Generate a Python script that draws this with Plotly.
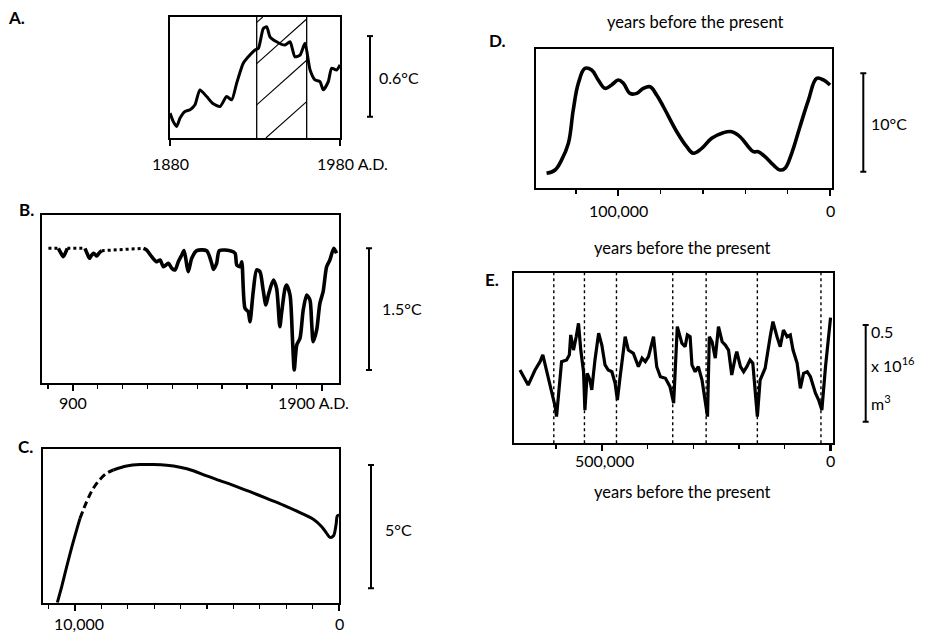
import plotly.graph_objects as go

W, H = 926, 633

# ---------------- data ----------------
# A. global mean temperature, 1880-1980 A.D.  (deg C, arbitrary baseline)
a_year = [1880, 1882, 1883.9, 1886, 1888.8, 1891.8, 1894.7, 1897.6, 1901.6, 1905,
          1909.4, 1913.3, 1916.3, 1919.2, 1923.1, 1927, 1930, 1932, 1934.9, 1936.9,
          1938.8, 1942.7, 1947.6, 1950.6, 1953.5, 1956.5, 1959.4, 1962.4, 1965.3,
          1968.2, 1970.2, 1973.1, 1975.1, 1978, 1980]
a_temp = [0.185, 0.12, 0.086, 0.15, 0.197, 0.210, 0.247, 0.358, 0.308, 0.259,
          0.234, 0.308, 0.284, 0.407, 0.556, 0.617, 0.654, 0.667, 0.815, 0.827,
          0.753, 0.716, 0.691, 0.716, 0.604, 0.617, 0.704, 0.506, 0.432,
          0.419, 0.358, 0.419, 0.519, 0.506, 0.544]
a_warm_span = [1931, 1960.4]

# B. last millennium, A.D. years
b_year = [802, 842, 852, 862, 870, 878, 949, 958, 967, 975, 983, 990, 996, 1006, 1016,
          1184, 1197, 1217, 1237, 1251, 1264, 1284, 1298, 1311, 1324, 1338, 1347, 1358,
          1364, 1378, 1398, 1438, 1458, 1465, 1478, 1489, 1532, 1552, 1559, 1572, 1579,
          1592, 1605, 1612, 1625, 1639, 1652, 1665, 1676, 1686, 1706, 1719, 1732, 1739,
          1753, 1759, 1773, 1783, 1790, 1800, 1813, 1826, 1840, 1853, 1860, 1866, 1880,
          1893, 1906, 1920, 1933, 1949, 1960]
b_temp = [1.657, 1.657, 1.60, 1.554, 1.60, 1.657, 1.657, 1.59, 1.534, 1.57, 1.596, 1.58,
          1.562, 1.60, 1.628,
          1.657, 1.636, 1.554, 1.492, 1.513, 1.430, 1.472, 1.411, 1.390, 1.492, 1.575,
          1.630, 1.451, 1.369, 1.534, 1.628, 1.628, 1.472, 1.398, 1.472, 1.628, 1.628,
          1.596, 1.451, 1.430, 1.492, 0.917, 0.875, 0.752, 1.122, 1.390, 1.369, 1.143,
          0.958, 1.081, 1.266, 1.164, 0.690, 0.856, 1.164, 1.205, 1.081, 0.527, 0.157,
          0.465, 0.547, 0.896, 1.081, 1.020, 0.732, 0.506, 0.650, 0.979, 1.122, 1.430,
          1.513, 1.657, 1.596]
b_dotted_runs = [(802, 842), (878, 949), (1016, 1184)]

# C. last 11,000 years (years before present)
c_year = [10671, 10504, 10315, 10065, 9811, 9557, 9307, 9053, 8800, 8549, 8042, 7538,
          7034, 6527, 6023, 5519, 5011, 4508, 4004, 3371, 2739, 2110, 1477, 974, 655,
          466, 341, 216, 114, 64, 0]
c_temp = [0.0, 0.649, 1.460, 2.474, 3.42, 4.10, 4.64, 5.00, 5.25, 5.38, 5.54, 5.60,
          5.60, 5.57, 5.49, 5.35, 5.14, 4.95, 4.76, 4.50, 4.23, 3.96, 3.65, 3.38, 3.08,
          2.81, 2.65, 2.70, 3.15, 3.52, 3.56]
c_dashed_run = (9811, 8549)

# D. last glacial cycle (thousand years before present)
d_kyr = [133.9, 129.9, 126.8, 123.6, 121.3, 118.9, 115.8, 112.6, 109.5, 106.3, 103.2,
         100.0, 97.6, 94.5, 91.3, 88.2, 85.0, 81.9, 78.7, 72.4, 67.7, 64.6, 60.6, 55.9,
         50.4, 46.4, 42.5, 38.6, 36.2, 33.9, 30.7, 26.8, 23.6, 21.3, 18.1, 14.2, 10.2,
         6.3, 3.1, 0.0]
d_temp = [1.46, 1.80, 2.82, 4.51, 7.90, 10.61, 12.13, 11.96, 10.95, 10.10, 10.44,
          10.95, 10.61, 9.59, 9.59, 10.10, 10.26, 9.42, 8.23, 5.69, 4.17, 3.50, 4.00,
          5.02, 5.59, 5.69, 5.18, 4.17, 3.66, 3.66, 3.15, 2.31, 1.80, 1.97, 3.50, 6.20,
          8.91, 11.12, 10.95, 10.44]

# E. ice volume index, last ~700,000 years (thousand years BP; 10^16 m^3 units)
e_kyr = [679, 661, 646, 635, 629, 624, 617, 609, 602, 599, 591, 588, 577, 571, 568, 562,
         556, 551, 546, 540, 537, 532, 526, 522, 515, 507, 500, 493, 486, 478, 471, 466,
         460, 449, 442, 431, 420, 412, 405, 398, 387, 380, 372, 361, 351, 343, 335, 325,
         318, 313, 307, 303, 296, 289, 281, 274, 269, 265, 259, 252, 245, 237, 230, 223,
         216, 208, 205, 197, 190, 183, 176, 170, 165, 160, 154, 143, 132, 126, 117, 110,
         103, 95, 88, 82, 73, 66, 59, 51, 44, 33, 26, 19, 11, 4, 0]
e_vol = [0.379, 0.301, 0.379, 0.422, 0.457, 0.405, 0.336, 0.267, 0.189, 0.138, 0.327,
         0.422, 0.431, 0.457, 0.560, 0.482, 0.551, 0.620, 0.482, 0.370, 0.172, 0.362,
         0.327, 0.276, 0.431, 0.569, 0.508, 0.405, 0.379, 0.370, 0.310, 0.224, 0.344,
         0.551, 0.482, 0.465, 0.396, 0.440, 0.422, 0.448, 0.551, 0.396, 0.344, 0.336,
         0.293, 0.207, 0.603, 0.517, 0.499, 0.560, 0.551, 0.405, 0.370, 0.396, 0.327,
         0.207, 0.138, 0.551, 0.525, 0.440, 0.603, 0.525, 0.508, 0.482, 0.353, 0.448,
         0.474, 0.396, 0.370, 0.396, 0.431, 0.414, 0.259, 0.138, 0.327, 0.388, 0.551,
         0.629, 0.551, 0.499, 0.586, 0.551, 0.560, 0.482, 0.414, 0.284, 0.362, 0.370,
         0.344, 0.259, 0.224, 0.172, 0.396, 0.569, 0.650]
e_terminations_kyr = [605, 538, 468, 345, 272, 160, 21]

scale_values = [0.6, 1.5, 5, 10, 0.5]
scale_texts = ["0.6°C", "1.5°C", "5°C", "10°C"]

# ---------------- layout geometry (pixels) ----------------
FONT = "Lato, 'Open Sans', sans-serif"
TXT = 16
panels = [
    dict(name="A", box=(170, 17, 340, 138), xr=[1880, 1980], yr=[0, 0.90],
         major=[1880, 1980], minor=None, bar_x=370, bar_y0=0.158, label=(16, 17)),
    dict(name="B", box=(41.7, 215, 339.3, 382.7), xr=[775, 1971], yr=[0, 2.068],
         major=[900, 1900], minor=100, bar_x=369, bar_y0=0.157, label=(26, 209)),
    dict(name="C", box=(42.7, 449.3, 339.3, 602.7), xr=[11224, -11], yr=[0, 6.22],
         major=[10000, 0], minor=1000, bar_x=371, bar_y0=0.584, label=(25, 446)),
    dict(name="D", box=(536, 49.3, 831.7, 187.7), xr=[138.9, -0.8], yr=[0, 14.07],
         major=[100, 0], minor=20, bar_x=863.3, bar_y0=1.63, label=(498, 41)),
    dict(name="E", box=(514, 272.7, 833.3, 443.3), xr=[692, -6], yr=[0, 0.882],
         major=[500, 0], minor=100, bar_x=865.7, bar_y0=0.112, label=(492, 279)),
]

fig = go.Figure()


def split_runs(xs, ys, spans):
    """Split a series into consecutive runs inside / outside the given spans."""
    def inside(x0, x1):
        return any(min(a, b) <= x0 <= max(a, b) and min(a, b) <= x1 <= max(a, b)
                   for a, b in spans)
    runs = []
    cur, cur_t = [], None
    for i in range(len(xs) - 1):
        t = inside(xs[i], xs[i + 1])
        if t != cur_t:
            if cur:
                runs.append((cur_t, cur))
            cur, cur_t = [(xs[i], ys[i])], t
        cur.append((xs[i + 1], ys[i + 1]))
    runs.append((cur_t, cur))
    return runs


def add_line(x, y, k, dash="solid", shape="spline", smoothing=0.8, width=3):
    line = dict(color="black", width=width, dash=dash, shape=shape)
    if shape == "spline":
        line["smoothing"] = smoothing
    fig.add_trace(go.Scatter(
        x=list(x), y=list(y), mode="lines", xaxis=f"x{k}", yaxis=f"y{k}",
        line=line, showlegend=False, hoverinfo="skip"))


shapes = []
annotations = []

# A: hatched interval (two boundary lines + diagonal hatching) and the curve
s0, s1 = a_warm_span
a_lo, a_hi = panels[0]["yr"]
for s in (s0, s1):
    shapes.append(dict(type="line", xref="x", yref="y", x0=s, x1=s, y0=a_lo, y1=a_hi,
                       line=dict(color="black", width=1.3), layer="below"))
hatch_slope = 0.0113          # deg C per year (≈ 42° on screen)
hatch_step = 0.307            # vertical spacing of hatch lines (deg C)
c = -0.061
while c < a_hi:
    # line: y = c + slope * (x - s0), clipped to the span rectangle
    xa, ya = s0, c
    if ya < a_lo:
        xa, ya = s0 + (a_lo - c) / hatch_slope, a_lo
    xb, yb = s1, c + hatch_slope * (s1 - s0)
    if yb > a_hi:
        xb, yb = s0 + (a_hi - c) / hatch_slope, a_hi
    if xa < xb:
        shapes.append(dict(type="line", xref="x", yref="y", x0=xa, y0=ya, x1=xb, y1=yb,
                           line=dict(color="black", width=1.1), layer="below"))
    c += hatch_step

add_line(a_year, a_temp, "", smoothing=0.6, width=3)

# B
for dotted, pts in split_runs(b_year, b_temp, b_dotted_runs):
    xs, ys = zip(*pts)
    if dotted:
        add_line(xs, ys, 2, dash="3px,3px", shape="linear", width=3)
    else:
        add_line(xs, ys, 2, smoothing=0.7, width=3.6)

# C
for dashed, pts in split_runs(c_year, c_temp, [c_dashed_run]):
    xs, ys = zip(*pts)
    add_line(xs, ys, 3, dash="7px,4px" if dashed else "solid", smoothing=1.0, width=3)

# D
add_line(d_kyr, d_temp, 4, smoothing=1.1, width=3.6)

# E
add_line(e_kyr, e_vol, 5, shape="linear", width=3.2)

# E termination lines
for t in e_terminations_kyr:
    shapes.append(dict(type="line", xref="x5", yref="y5 domain", x0=t, x1=t, y0=0, y1=1,
                       line=dict(color="black", width=1.4, dash="3px,3px"), layer="below"))

layout_axes = {}
for i, p in enumerate(panels):
    k = "" if i == 0 else str(i + 1)
    x0, y0, x1, y1 = p["box"]
    xa = dict(domain=[x0 / W, x1 / W], range=p["xr"], anchor=f"y{k}",
              showline=True, mirror=True, linecolor="black", linewidth=2,
              showgrid=False, zeroline=False, showticklabels=False,
              ticks="outside", tickmode="array", tickvals=p["major"],
              ticklen=6, tickwidth=2.2, tickcolor="black", fixedrange=True)
    if p["minor"]:
        xa["minor"] = dict(ticks="outside", dtick=p["minor"], tick0=0, ticklen=4,
                           tickwidth=1.3, tickcolor="black", showgrid=False)
    ya = dict(domain=[1 - y1 / H, 1 - y0 / H], range=p["yr"], anchor=f"x{k}",
              showline=True, mirror=True, linecolor="black", linewidth=2,
              showgrid=False, zeroline=False, showticklabels=False, ticks="",
              fixedrange=True)
    layout_axes[f"xaxis{k}"] = xa
    layout_axes[f"yaxis{k}"] = ya

    # scale bar
    bx = p["bar_x"]
    yb0 = p["bar_y0"]
    yb1 = yb0 + scale_values[i]
    shapes.append(dict(type="line", xref="paper", yref=f"y{k}", x0=bx / W, x1=bx / W,
                       y0=yb0, y1=yb1, line=dict(color="black", width=2)))
    for yy in (yb0, yb1):
        shapes.append(dict(type="line", xref="paper", yref=f"y{k}", x0=(bx - 3) / W,
                           x1=(bx + 3) / W, y0=yy, y1=yy, line=dict(color="black", width=2)))

    # panel letter
    lx, ly = p["label"]
    annotations.append(dict(text=f"<b>{p['name']}.</b>", xref="paper", yref="paper",
                            x=lx / W, y=1 - ly / H, xanchor="center", yanchor="middle",
                            showarrow=False,
                            font=dict(size=17, family=FONT, color="black")))


def paper_text(text, px, py, anchor="center", size=TXT):
    annotations.append(dict(text=text, xref="paper", yref="paper", x=px / W, y=1 - py / H,
                            xanchor=anchor, yanchor="middle", showarrow=False,
                            font=dict(size=size, family=FONT, color="black")))


def tick_text(text, xref, xval, py, anchor="center", shift=0, size=TXT):
    annotations.append(dict(text=text, xref=xref, yref="paper", x=xval, y=1 - py / H,
                            xanchor=anchor, yanchor="middle", xshift=shift,
                            showarrow=False,
                            font=dict(size=size, family=FONT, color="black")))


# tick labels
tick_text("1880", "x", 1880, 163)
tick_text("1980 A.D.", "x", 1980, 163, anchor="left", shift=-25)
tick_text("900", "x2", 900, 402)
tick_text("1900 A.D.", "x2", 1900, 402, shift=-8)
tick_text("10,000", "x3", 10000, 623, shift=4)
tick_text("0", "x3", 0, 623)
tick_text("100,000", "x4", 100, 210)
tick_text("0", "x4", 0, 210)
tick_text("500,000", "x5", 500, 460, shift=3)
tick_text("0", "x5", 0, 460)

# axis titles
paper_text("years before the present", 695, 22, size=16.5)
paper_text("years before the present", 682, 248, size=16.5)
paper_text("years before the present", 682, 492, size=16.5)

# scale labels
paper_text(scale_texts[0], 377, 78, anchor="left")
paper_text(scale_texts[1], 380, 308, anchor="left")
paper_text(scale_texts[2], 383, 529, anchor="left")
paper_text(scale_texts[3], 869, 123, anchor="left")
paper_text(f"{scale_values[4]}", 869, 331, anchor="left")
paper_text("x 10<sup>16</sup>", 869, 364, anchor="left")
paper_text("m<sup>3</sup>", 869, 402, anchor="left")

fig.update_layout(
    width=W, height=H, margin=dict(l=0, r=0, t=0, b=0),
    paper_bgcolor="white", plot_bgcolor="white",
    font=dict(family=FONT, color="black", size=TXT),
    shapes=shapes, annotations=annotations, showlegend=False,
    **layout_axes)

fig.write_html("out.html",
               config={"displayModeBar": False, "staticPlot": True},
               post_script="document.body.style.margin='0px';"
                           "document.body.style.overflow='hidden';")
